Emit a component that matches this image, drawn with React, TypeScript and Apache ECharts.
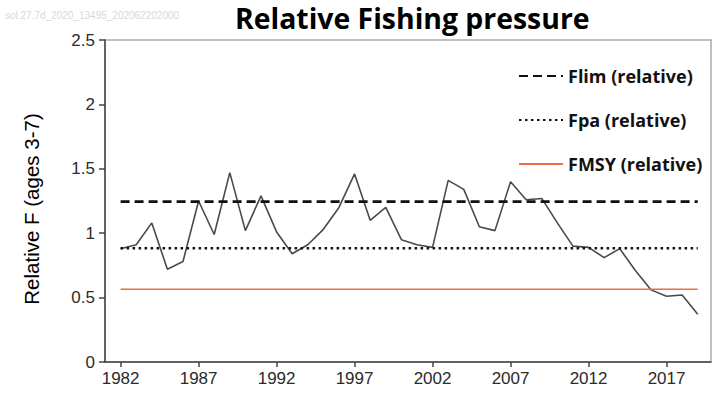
import React, { useEffect, useRef } from "react";
import * as echarts from "echarts";

const years: number[] = [
  1982, 1983, 1984, 1985, 1986, 1987, 1988, 1989, 1990, 1991,
  1992, 1993, 1994, 1995, 1996, 1997, 1998, 1999, 2000, 2001,
  2002, 2003, 2004, 2005, 2006, 2007, 2008, 2009, 2010, 2011,
  2012, 2013, 2014, 2015, 2016, 2017, 2018, 2019,
];
const relativeF: number[] = [
  0.88, 0.91, 1.08, 0.72, 0.78, 1.25, 0.99, 1.47, 1.02, 1.29,
  1.01, 0.84, 0.91, 1.03, 1.2, 1.46, 1.1, 1.2, 0.95, 0.91,
  0.89, 1.41, 1.34, 1.05, 1.02, 1.4, 1.26, 1.27, 1.08, 0.9,
  0.89, 0.81, 0.88, 0.71, 0.56, 0.51, 0.52, 0.37,
];
const flim = 1.245;
const fpa = 0.883;
const fmsy = 0.565;
const xTicks: number[] = [1982, 1987, 1992, 1997, 2002, 2007, 2012, 2017];
const legendNames: string[] = ["Flim (relative)", "Fpa (relative)", "FMSY (relative)"];

export default function App() {
  const ref = useRef<HTMLDivElement>(null);
  useEffect(() => {
    if (!ref.current) return;
    const chart = echarts.init(ref.current, null, { renderer: "svg" });
    const first = years[0];
    const last = years[years.length - 1];
    const hline = (v: number) => [
      [first, v],
      [last, v],
    ];
    const labelStyle = {
      fontFamily: "Liberation Sans, Arial, sans-serif",
      fontSize: 17,
      color: "#2b2b2b",
    };
    chart.setOption({
      animation: false,
      backgroundColor: "#ffffff",
      title: {
        text: "Relative Fishing pressure",
        left: 230,
        top: -1,
        textStyle: {
          fontFamily: "Open Sans, sans-serif",
          fontWeight: "bold",
          fontSize: 28.4,
          color: "#000",
        },
      },
      graphic: [
        {
          type: "text",
          left: 5,
          top: 10,
          style: {
            text: "sol.27.7d_2020_13495_202062202000",
            fontFamily: "Liberation Sans, Arial, sans-serif",
            fontSize: 10,
            fill: "#d8d8d8",
          },
        },
      ],
      legend: {
        data: legendNames,
        orient: "vertical",
        left: 513,
        top: 62,
        itemWidth: 44,
        itemHeight: 14,
        itemGap: 26,
        itemStyle: { opacity: 0 },
        textStyle: {
          fontFamily: "Open Sans, sans-serif",
          fontWeight: "bold",
          fontSize: 18,
          color: "#111",
        },
      },
      grid: {
        left: 105,
        right: 2,
        top: 40,
        bottom: 38,
        show: true,
        borderColor: "#aaaaaa",
        borderWidth: 1.5,
      },
      xAxis: {
        type: "value",
        min: 1981,
        max: 2019.85,
        interval: 1,
        splitLine: { show: false },
        axisLine: { show: true, lineStyle: { color: "#444", width: 1.5 } },
        axisTick: {
          show: true,
          length: 5,
          customValues: xTicks,
          lineStyle: { color: "#444", width: 1.5 },
        },
        axisLabel: {
          ...labelStyle,
          margin: 8,
          customValues: xTicks,
          formatter: (v: number) => String(v),
        },
      },
      yAxis: {
        type: "value",
        min: 0,
        max: 2.5,
        interval: 0.5,
        name: "Relative F (ages 3-7)",
        nameLocation: "middle",
        nameRotate: 90,
        nameGap: 63,
        nameTextStyle: {
          fontFamily: "Liberation Sans, Arial, sans-serif",
          fontSize: 20.5,
          color: "#000",
          padding: [0, 16, 0, 0],
        },
        splitLine: { show: false },
        axisLine: { show: true, lineStyle: { color: "#444", width: 1.5 } },
        axisTick: { show: true, length: 6, lineStyle: { color: "#444", width: 1.5 } },
        axisLabel: { ...labelStyle, margin: 10 },
      },
      series: [
        {
          name: "Relative F",
          type: "line",
          data: years.map((y, i) => [y, relativeF[i]]),
          symbol: "none",
          lineStyle: { color: "#4a4a4a", width: 1.6 },
          itemStyle: { color: "#4a4a4a" },
          z: 3,
        },
        {
          name: legendNames[0],
          type: "line",
          data: hline(flim),
          symbol: "none",
          lineStyle: { color: "#111", width: 2.6, type: [9, 5] },
          itemStyle: { color: "#111" },
        },
        {
          name: legendNames[1],
          type: "line",
          data: hline(fpa),
          symbol: "none",
          lineStyle: { color: "#111", width: 2.6, type: [2.5, 3.5] },
          itemStyle: { color: "#111" },
        },
        {
          name: legendNames[2],
          type: "line",
          data: hline(fmsy),
          symbol: "none",
          lineStyle: { color: "#f26b43", width: 1.6 },
          itemStyle: { color: "#f26b43" },
        },
      ],
    });
    return () => chart.dispose();
  }, []);
  return (
    <div
      ref={ref}
      style={{ position: "absolute", left: 0, top: 0, width: 713, height: 400 }}
    />
  );
}
